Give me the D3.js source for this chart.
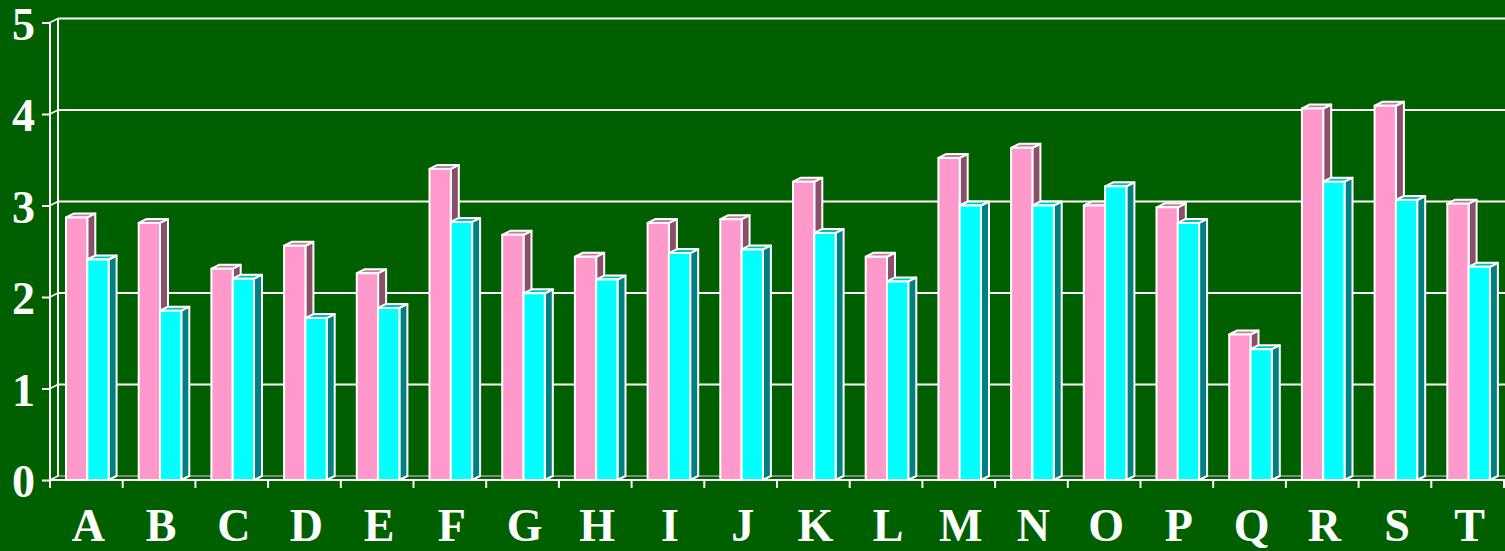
<!DOCTYPE html>
<html>
<head>
<meta charset="utf-8">
<script src="https://cdn.jsdelivr.net/npm/d3@7"></script>
<style>
  html, body { margin: 0; padding: 0; background: #006000; }
  svg { display: block; }
</style>
</head>
<body>
<svg id="chart" width="1505" height="551"></svg>
<script>
const categories = ['A','B','C','D','E','F','G','H','I','J','K','L','M','N','O','P','Q','R','S','T'];
const pinkValues = [2.87, 2.81, 2.31, 2.56, 2.26, 3.40, 2.68, 2.44, 2.81, 2.85, 3.26, 2.44, 3.52, 3.63, 3.00, 2.98, 1.59, 4.06, 4.09, 3.02];
const cyanValues = [2.41, 1.85, 2.20, 1.77, 1.88, 2.82, 2.04, 2.19, 2.48, 2.52, 2.70, 2.17, 3.00, 3.00, 3.21, 2.81, 1.43, 3.26, 3.06, 2.33];
const yTicks = [0, 1, 2, 3, 4, 5];

const seriesStyle = [
    { key: 'pink', front: '#ff99cc', top: '#c47c9e', side: '#8a4f69' },
    { key: 'cyan', front: '#00ffff', top: '#00c0c0', side: '#008080' }
];

const svg = d3.select('#chart');
const W = 1505;
const DX = 8, DY = 4;   // depth offset

const x = d3.scaleBand().domain(categories).range([50, 1504]).padding(0);
const xs = d3.scaleBand().domain(['pink', 'cyan']).range([16, 58.6]).padding(0);
const y = d3.scaleLinear().domain([0, 5]).range([480, 22.5]);

// back wall gridlines
const grid = svg.append('g');
grid.selectAll('line.grid')
    .data(yTicks.filter(d => d > 0))
    .enter().append('line')
    .attr('x1', 50 + DX).attr('x2', W)
    .attr('y1', d => y(d) - DY).attr('y2', d => y(d) - DY)
    .attr('stroke', '#fff').attr('stroke-width', 2);

// floor back edge
grid.append('line')
    .attr('x1', 50 + DX).attr('x2', W)
    .attr('y1', y(0) - DY).attr('y2', y(0) - DY)
    .attr('stroke', '#a0a0a0').attr('stroke-width', 1.5);

// back wall left edge
grid.append('line')
    .attr('x1', 50 + DX).attr('x2', 50 + DX)
    .attr('y1', y(5) - DY).attr('y2', y(0) - DY)
    .attr('stroke', '#fff').attr('stroke-width', 2);

// diagonal connectors from front axis to wall
grid.selectAll('line.conn')
    .data(yTicks)
    .enter().append('line')
    .attr('x1', 50).attr('x2', 50 + DX)
    .attr('y1', d => y(d)).attr('y2', d => y(d) - DY)
    .attr('stroke', '#fff').attr('stroke-width', 1.5);

// bars
const barsG = svg.append('g');
const rows = categories.map((c, i) => ({ c, vals: [pinkValues[i], cyanValues[i]] }));

rows.forEach(r => {
    seriesStyle.forEach((s, si) => {
        const v = r.vals[si];
        const x0 = x(r.c) + xs(s.key);
        const x1 = x0 + xs.bandwidth();
        const yt = y(v), yb = y(0);
        const g = barsG.append('g')
            .attr('stroke', '#fff').attr('stroke-width', 2).attr('stroke-linejoin', 'round');
        // side
        g.append('path')
            .attr('d', `M${x1},${yb}L${x1 + DX},${yb - DY}L${x1 + DX},${yt - DY}L${x1},${yt}Z`)
            .attr('fill', s.side);
        // top
        g.append('path')
            .attr('d', `M${x0},${yt}L${x0 + DX},${yt - DY}L${x1 + DX},${yt - DY}L${x1},${yt}Z`)
            .attr('fill', s.top);
        // front
        g.append('rect')
            .attr('x', x0).attr('y', yt)
            .attr('width', x1 - x0).attr('height', yb - yt)
            .attr('fill', s.front);
    });
});

// front axes
const axisG = svg.append('g');
axisG.append('line')
    .attr('x1', 50).attr('x2', W)
    .attr('y1', y(0)).attr('y2', y(0))
    .attr('stroke', '#fff').attr('stroke-width', 2);
axisG.append('line')
    .attr('x1', 50).attr('x2', 50)
    .attr('y1', y(5)).attr('y2', y(0))
    .attr('stroke', '#fff').attr('stroke-width', 2);

// y axis ticks + labels
const yAxis = svg.append('g')
    .attr('transform', 'translate(50,0)')
    .call(d3.axisLeft(y).tickValues(yTicks).tickFormat(d3.format('d')).tickSize(8).tickPadding(7));
yAxis.select('.domain').remove();
yAxis.selectAll('line').attr('stroke', '#fff').attr('stroke-width', 2);
yAxis.selectAll('text')
    .attr('fill', '#fff')
    .attr('font-family', '"Liberation Serif", "Times New Roman", serif')
    .attr('font-weight', 'bold')
    .attr('font-size', '46px')
    .attr('dy', '0.36em');

// category boundary ticks
svg.append('g').selectAll('line')
    .data(categories.concat(['end']))
    .enter().append('line')
    .attr('x1', (d, i) => 50 + i * x.step()).attr('x2', (d, i) => 50 + i * x.step())
    .attr('y1', y(0)).attr('y2', y(0) + 8)
    .attr('stroke', '#fff').attr('stroke-width', 2);

// x axis labels
const xAxis = svg.append('g')
    .attr('transform', `translate(2,${y(0)})`)
    .call(d3.axisBottom(x).tickSize(0).tickPadding(28));
xAxis.select('.domain').remove();
xAxis.selectAll('text')
    .attr('fill', '#fff')
    .attr('font-family', '"Liberation Serif", "Times New Roman", serif')
    .attr('font-weight', 'bold')
    .attr('font-size', '46px');
</script>
</body>
</html>
